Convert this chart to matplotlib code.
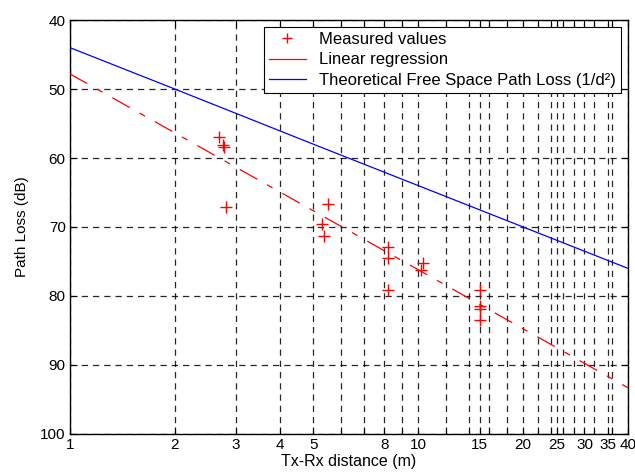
import matplotlib
matplotlib.use("Agg")
from matplotlib import pyplot as plt
from matplotlib.lines import Line2D
from matplotlib.ticker import FixedLocator, NullFormatter

plt.rcParams["font.family"] = ["Liberation Sans", "DejaVu Sans"]

# measured points (distance in m, path loss in dB)
meas_dist = [2.68, 2.75, 2.77, 2.80, 5.30, 5.35, 5.50, 8.20, 8.20, 8.20,
             10.2, 10.3, 15.0, 15.0, 15.0, 15.0]
meas_loss = [57.0, 58.1, 58.4, 67.1, 69.6, 71.3, 66.7, 72.9, 74.5, 79.1,
             76.2, 75.2, 79.1, 81.5, 81.9, 83.5]

# linear regression line (end points)
reg_dist = [1, 40]
reg_loss = [47.8, 93.3]

# theoretical free space path loss
fspl_dist = [1, 2, 5, 10, 20, 40]
fspl_loss = [44.0, 50.0, 58.0, 64.0, 70.0, 76.0]

# axis ticks
x_labeled = [1, 2, 3, 4, 5, 8, 10, 15, 20, 25, 30, 35, 40]
x_minor = [6, 7, 9, 12, 14, 16, 18, 22, 24, 26, 28, 32, 36]
y_ticks = [40, 50, 60, 70, 80, 90, 100]

labels = ["Measured values", "Linear regression",
          "Theoretical Free Space Path Loss (1/d\u00b2)"]

fig = plt.figure(figsize=(6.35, 4.74), dpi=100)
ax = fig.add_axes([0.110, 0.0844, 0.879, 0.8734])

ax.plot(meas_dist, meas_loss, "+", color="red", markersize=8, markeredgewidth=1.0,
        zorder=4)
ax.plot(reg_dist, reg_loss, color="red", linewidth=0.9, dashes=(16, 9, 5, 9),
        zorder=3)
ax.plot(fspl_dist, fspl_loss, color="blue", linewidth=0.9, zorder=3)

ax.set_xscale("log")
ax.set_xlim(1, 40)
ax.set_ylim(100, 40)

ax.xaxis.set_major_locator(FixedLocator(x_labeled))
ax.set_xticklabels([str(v) for v in x_labeled])
ax.xaxis.set_minor_locator(FixedLocator(x_minor))
ax.xaxis.set_minor_formatter(NullFormatter())
ax.set_yticks(y_ticks)

ax.tick_params(which="both", direction="in", top=True, right=True,
               length=5, width=0.8, labelsize=11, pad=3)

grid_style = dict(color="black", linewidth=0.9, linestyle=(0, (5, 4)), alpha=0.85)
ax.grid(True, which="major", axis="both", **grid_style)
ax.grid(True, which="minor", axis="x", **grid_style)
ax.set_axisbelow(True)

for s in ax.spines.values():
    s.set_linewidth(1.0)

ax.set_xlabel("Tx-Rx distance (m)", fontsize=11.5, labelpad=1)
ax.set_ylabel("Path Loss (dB)", fontsize=11, labelpad=8)

# legend shows plain line samples, like the original
handles = [
    Line2D([], [], marker="+", linestyle="none", color="red", markersize=7),
    Line2D([], [], color="red", linewidth=0.9),
    Line2D([], [], color="blue", linewidth=0.9),
]
leg = ax.legend(handles, labels, loc="upper right", bbox_to_anchor=(0.9875, 0.983),
                fontsize=12, fancybox=False, framealpha=1, edgecolor="black",
                borderpad=0.3, labelspacing=0.32, handlelength=2.2,
                handletextpad=0.8, borderaxespad=0)
leg.get_frame().set_linewidth(0.8)

fig.savefig("out.png", dpi=100)
